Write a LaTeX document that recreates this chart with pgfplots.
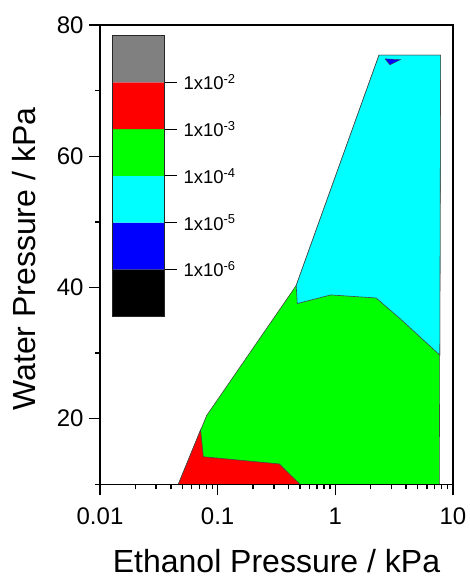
\documentclass[border=0pt]{standalone}
\usepackage{fontspec}
\setmainfont{Liberation Sans}
\usepackage{pgfplots}
\pgfplotsset{compat=1.18}

\definecolor{lvgray}{RGB}{128,128,128}
\definecolor{lvred}{RGB}{255,0,0}
\definecolor{lvgreen}{RGB}{0,255,0}
\definecolor{lvcyan}{RGB}{0,255,255}
\definecolor{lvblue}{RGB}{0,0,255}
\definecolor{lvblack}{RGB}{0,0,0}
\definecolor{contour}{RGB}{70,70,70}

\begin{document}
\begin{tikzpicture}
\useasboundingbox (-100pt,-93.7pt) rectangle (370pt,484.3pt);

% contour map: ethanol vs. water partial pressure
\begin{axis}[
  at={(0pt,0pt)}, anchor=south west,
  scale only axis, width=353pt, height=459.3pt,
  xmode=log, xmin=0.01, xmax=10, ymin=10, ymax=80,
  xtick={0.01,0.1,1,10}, xticklabels={0.01,0.1,1,10},
  minor xtick={0.02,0.03,0.04,0.05,0.06,0.07,0.08,0.09,
               0.2,0.3,0.4,0.5,0.6,0.7,0.8,0.9,
               2,3,4,5,6,7,8,9},
  ytick={20,40,60,80}, yticklabels={20,40,60,80},
  minor ytick={10,30,50,70},
  tick align=outside, xtick pos=bottom, ytick pos=left,
  major tick length=11pt, minor tick length=5pt,
  axis line style={line width=1.6pt},
  every tick/.style={black, line width=1.4pt},
  tick label style={font=\fontsize{24}{28}\selectfont},
  xticklabel style={yshift=-9pt},
  yticklabel style={xshift=-2pt},
  xlabel={Ethanol Pressure / kPa}, ylabel={Water Pressure / kPa},
  label style={font=\fontsize{32}{38}\selectfont},
  xlabel style={at={(axis description cs:0.5,-0.192)}, anchor=base},
  ylabel style={at={(axis description cs:-0.184,0.49)}, anchor=base},
  axis on top,
]
% whole measured region (1e-4 .. 1e-3 level)
\addplot[fill=lvgreen, draw=contour, line width=0.6pt] coordinates {
  (0.0463,10) (0.0807,20.5) (0.465,40.3) (2.35,75.4)
  (7.85,75.4) (7.65,10) (0.0463,10)};
% 1e-3 .. 1e-2 level
\addplot[fill=lvred, draw=contour, line width=0.6pt] coordinates {
  (0.0463,10) (0.0716,18.3) (0.0755,14.2) (0.334,13.1)
  (0.50,10) (0.0463,10)};
% 1e-5 .. 1e-4 level
\addplot[fill=lvcyan, draw=contour, line width=0.6pt] coordinates {
  (0.465,40.3) (2.35,75.4) (7.85,75.4) (7.72,29.7)
  (3.54,35.27) (2.22,38.4) (0.913,38.86) (0.475,37.55) (0.465,40.3)};
% 1e-6 .. 1e-5 level
\addplot[fill=lvblue, draw=contour, line width=0.4pt] coordinates {
  (2.64,74.84) (3.59,74.73) (2.91,73.93) (2.64,74.84)};
\end{axis}

% colour scale
\begin{axis}[
  at={(12.3pt,168.3pt)}, anchor=south west,
  scale only axis, width=51.7pt, height=280.3pt,
  xmin=0, xmax=1, ymin=0, ymax=6,
  xtick=\empty,
  ytick={1,2,3,4,5},
  yticklabels={1x10\textsuperscript{-6},1x10\textsuperscript{-5},
               1x10\textsuperscript{-4},1x10\textsuperscript{-3},
               1x10\textsuperscript{-2}},
  ytick pos=right, tick align=outside,
  major tick length=13pt,
  every tick/.style={black, line width=1.2pt},
  axis line style={line width=0.8pt, black!85},
  tick label style={font=\fontsize{18.5}{22}\selectfont},
  yticklabel style={xshift=3pt},
  axis on top,
]
\addplot[fill=lvblack, draw=none] coordinates {(0,0) (1,0) (1,1) (0,1) (0,0)};
\addplot[fill=lvblue,  draw=none] coordinates {(0,1) (1,1) (1,2) (0,2) (0,1)};
\addplot[fill=lvcyan,  draw=none] coordinates {(0,2) (1,2) (1,3) (0,3) (0,2)};
\addplot[fill=lvgreen, draw=none] coordinates {(0,3) (1,3) (1,4) (0,4) (0,3)};
\addplot[fill=lvred,   draw=none] coordinates {(0,4) (1,4) (1,5) (0,5) (0,4)};
\addplot[fill=lvgray,  draw=none] coordinates {(0,5) (1,5) (1,6) (0,6) (0,5)};
\end{axis}
\end{tikzpicture}
\end{document}
